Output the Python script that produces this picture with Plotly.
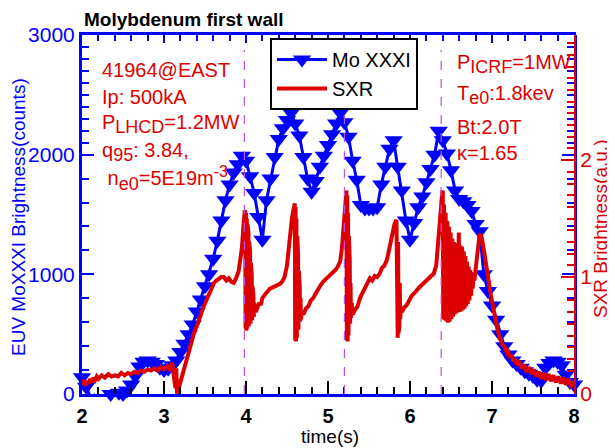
import plotly.graph_objects as go

# ---------------- data ----------------
mo_time = [2.00, 2.05, 2.10, 2.15, 2.20, 2.25, 2.30, 2.35, 2.40, 2.45,
           2.50, 2.55, 2.60, 2.65, 2.70, 2.75, 2.80, 2.85, 2.90, 2.95,
           3.00, 3.05, 3.10, 3.15, 3.20, 3.25, 3.30, 3.35, 3.40, 3.45,
           3.50, 3.55, 3.60, 3.65, 3.70, 3.75, 3.80, 3.85, 3.90, 3.95,
           4.00, 4.05, 4.10, 4.15, 4.20, 4.25, 4.30, 4.35, 4.40, 4.45,
           4.50, 4.55, 4.60, 4.65, 4.70, 4.75, 4.80, 4.85, 4.90, 4.95,
           5.00, 5.05, 5.10, 5.15, 5.20, 5.25, 5.30, 5.35, 5.40, 5.45,
           5.50, 5.55, 5.60, 5.65, 5.70, 5.75, 5.80, 5.85, 5.90, 5.95,
           6.00, 6.05, 6.10, 6.15, 6.20, 6.25, 6.30, 6.35, 6.40, 6.45,
           6.50, 6.55, 6.60, 6.65, 6.70, 6.75, 6.80, 6.85, 6.90, 6.95,
           7.00, 7.05, 7.10, 7.15, 7.20, 7.25, 7.30, 7.35, 7.40, 7.45,
           7.50, 7.55, 7.60, 7.65, 7.70, 7.75, 7.80, 7.85, 7.90, 7.95, 8.00]
mo_counts = [140, 60, -20, -10, -30, -20, -40, 0, -20, 10,
             0, 30, 80, 150, 230, 270, 280, 270, 250, 220,
             200, 210, 240, 280, 350, 420, 500, 580, 690, 790,
             900, 1000, 1130, 1280, 1450, 1620, 1750, 1850, 1920, 1990,
             1950, 1820, 1680, 1480, 1290, 1620, 1800, 1980, 2130, 2220,
             2290, 2350, 2260, 2160, 1980, 1800, 1690, 1780, 1900, 1990,
             2080, 2170, 2260, 2350, 2270, 2150, 1950, 1790, 1580, 1550,
             1550, 1550, 1560, 1750, 1900, 2050, 2120, 1900, 1700, 1450,
             1290, 1430, 1560, 1650, 1770, 1880, 2000, 2200, 2120, 2010,
             1870, 1700, 1630, 1610, 1580, 1530, 1420, 1360, 1000, 860,
             740, 620, 500, 400, 330, 280, 250, 220, 190, 170,
             150, 120, 110, 220, 260, 280, 270, 240, 160, 100, 80]

sxr_points = [
    (2.00, 0.08), (2.02, 0.12), (2.04, 0.07), (2.06, 0.11), (2.08, 0.09), (2.10, 0.13),
    (2.12, 0.10), (2.14, 0.14), (2.16, 0.12), (2.18, 0.15), (2.20, 0.13), (2.24, 0.16),
    (2.28, 0.14), (2.32, 0.17), (2.36, 0.15), (2.40, 0.16), (2.44, 0.15), (2.48, 0.18),
    (2.52, 0.16), (2.56, 0.18), (2.60, 0.17), (2.64, 0.19), (2.68, 0.18), (2.72, 0.20),
    (2.76, 0.19), (2.80, 0.21), (2.84, 0.20), (2.88, 0.22), (2.92, 0.20), (2.96, 0.23),
    (3.00, 0.21), (3.04, 0.24), (3.08, 0.20), (3.10, 0.27), (3.12, 0.15), (3.14, 0.05),
    (3.15, 0.22), (3.16, -0.02), (3.17, 0.12), (3.18, 0.05), (3.20, 0.10), (3.22, 0.15),
    (3.25, 0.22), (3.28, 0.32), (3.31, 0.40), (3.34, 0.47), (3.37, 0.53), (3.40, 0.58),
    (3.43, 0.65), (3.46, 0.70), (3.49, 0.76), (3.52, 0.81), (3.55, 0.86), (3.58, 0.91),
    (3.61, 0.95), (3.64, 0.97), (3.67, 0.99), (3.70, 1.00), (3.73, 1.00), (3.76, 0.97),
    (3.79, 0.99), (3.82, 0.96), (3.85, 0.95), (3.88, 0.99), (3.91, 1.05), (3.93, 1.15),
    (3.95, 1.25), (3.97, 1.45), (3.985, 1.57),
    (3.990, 1.56), (3.995, 0.56), (4.000, 1.55), (4.005, 0.54), (4.010, 1.50), (4.015, 0.56),
    (4.020, 1.45), (4.025, 0.57), (4.030, 1.38), (4.035, 0.58), (4.040, 1.30), (4.045, 0.60),
    (4.050, 1.22), (4.055, 0.60), (4.060, 1.12), (4.065, 0.62), (4.070, 1.02), (4.075, 0.63),
    (4.080, 0.92), (4.085, 0.65), (4.090, 0.85), (4.095, 0.66), (4.100, 0.78), (4.105, 0.68),
    (4.11, 0.74), (4.12, 0.70), (4.14, 0.74), (4.16, 0.78), (4.18, 0.76), (4.20, 0.82),
    (4.23, 0.85), (4.26, 0.88), (4.29, 0.90), (4.32, 0.91), (4.35, 0.92), (4.38, 0.93),
    (4.41, 0.94), (4.44, 0.96), (4.47, 1.00), (4.50, 1.10), (4.52, 1.25), (4.54, 1.40),
    (4.56, 1.50), (4.58, 1.58), (4.595, 1.63),
    (4.600, 0.46), (4.605, 1.60), (4.610, 0.45), (4.615, 1.50), (4.620, 0.48), (4.625, 1.35),
    (4.630, 0.52), (4.635, 1.20), (4.640, 0.55), (4.645, 1.05), (4.650, 0.58), (4.655, 0.92),
    (4.660, 0.62), (4.665, 0.82), (4.670, 0.64), (4.68, 0.70), (4.70, 0.68), (4.73, 0.73),
    (4.76, 0.75), (4.79, 0.80), (4.82, 0.82), (4.85, 0.86), (4.88, 0.90), (4.91, 0.93),
    (4.94, 0.96), (4.97, 0.98), (5.00, 1.00), (5.03, 1.02), (5.06, 1.03), (5.09, 1.06),
    (5.12, 1.09), (5.15, 1.14), (5.17, 1.25), (5.19, 1.40), (5.21, 1.58), (5.225, 1.74),
    (5.230, 0.46), (5.235, 1.70), (5.240, 0.45), (5.245, 1.55), (5.250, 0.50), (5.255, 1.35),
    (5.260, 0.55), (5.265, 1.15), (5.270, 0.60), (5.275, 0.95), (5.280, 0.65), (5.29, 0.78),
    (5.30, 0.68), (5.33, 0.72), (5.36, 0.75), (5.39, 0.82), (5.42, 0.86), (5.45, 0.91),
    (5.48, 0.95), (5.51, 0.99), (5.54, 0.97), (5.57, 1.01), (5.60, 1.00), (5.63, 1.03),
    (5.66, 1.08), (5.69, 1.10), (5.72, 1.15), (5.75, 1.25), (5.78, 1.35), (5.81, 1.45),
    (5.835, 1.49),
    (5.840, 0.49), (5.845, 1.45), (5.850, 0.48), (5.855, 1.30), (5.860, 0.52), (5.865, 1.12),
    (5.870, 0.58), (5.875, 0.95), (5.880, 0.64), (5.89, 0.75), (5.90, 0.70), (5.93, 0.74),
    (5.96, 0.76), (5.99, 0.80), (6.02, 0.84), (6.05, 0.86), (6.08, 0.89), (6.11, 0.91),
    (6.14, 0.93), (6.17, 0.95), (6.20, 0.97), (6.23, 0.98), (6.26, 1.00), (6.29, 1.03),
    (6.32, 1.10), (6.34, 1.25), (6.36, 1.45), (6.38, 1.62), (6.395, 1.74),
    (6.400, 1.72), (6.405, 0.64), (6.415, 1.62), (6.425, 0.63), (6.435, 1.55), (6.445, 0.62),
    (6.455, 1.48), (6.465, 0.61), (6.475, 1.43), (6.485, 0.62), (6.495, 1.38), (6.505, 0.64),
    (6.515, 1.33), (6.525, 0.66), (6.535, 1.30), (6.545, 0.68), (6.555, 1.29), (6.565, 0.69),
    (6.575, 1.28), (6.585, 0.70), (6.595, 1.38), (6.605, 0.70), (6.615, 1.27), (6.625, 0.71),
    (6.635, 1.26), (6.645, 0.72), (6.655, 1.22), (6.665, 0.73), (6.675, 1.18), (6.685, 0.75),
    (6.695, 1.13), (6.705, 0.77), (6.715, 1.09), (6.725, 0.80), (6.735, 1.06), (6.745, 0.84),
    (6.755, 1.04), (6.765, 0.90), (6.775, 1.03), (6.785, 0.97), (6.795, 1.05), (6.81, 1.12),
    (6.83, 1.25), (6.85, 1.37), (6.87, 1.35), (6.89, 1.28), (6.91, 1.18), (6.93, 1.08),
    (6.95, 0.98), (6.97, 0.90), (6.99, 0.83), (7.01, 0.76), (7.03, 0.68), (7.05, 0.60),
    (7.07, 0.54), (7.09, 0.49), (7.11, 0.45), (7.13, 0.42), (7.16, 0.40), (7.18, 0.35),
    (7.20, 0.36), (7.22, 0.31), (7.24, 0.33), (7.26, 0.28), (7.28, 0.30), (7.30, 0.25),
    (7.33, 0.28), (7.36, 0.22), (7.39, 0.25), (7.42, 0.19), (7.45, 0.23), (7.48, 0.17),
    (7.51, 0.21), (7.54, 0.15), (7.57, 0.19), (7.60, 0.13), (7.63, 0.18), (7.66, 0.12),
    (7.69, 0.17), (7.72, 0.11), (7.75, 0.16), (7.78, 0.10), (7.81, 0.15), (7.84, 0.09),
    (7.87, 0.14), (7.90, 0.08), (7.93, 0.13), (7.96, 0.07), (8.00, 0.10),
]
sxr_time = [p[0] for p in sxr_points]
sxr_value = [p[1] for p in sxr_points]

crash_times = [3.98, 5.20, 6.38]

x_ticks = [2, 3, 4, 5, 6, 7, 8]
left_ticks = [0, 1000, 2000, 3000]
left_minor = [200, 400, 600, 800, 1200, 1400, 1600, 1800,
              2100, 2200, 2300, 2400, 2500, 2600, 2700, 2800, 2900]
right_ticks = [0, 1, 2]


def sub(s):
    return '<sub><span style="font-size:18px">' + s + '</span></sub>'


def sup(s):
    return '<sup><span style="font-size:16px">' + s + '</span></sup>'


left_notes = ["41964@EAST", "Ip: 500kA", "P" + sub("LHCD") + "=1.2MW",
              "q" + sub("95") + ": 3.84,", " n" + sub("e0") + "=5E19m" + sup("-3")]
right_notes = ["P" + sub("ICRF") + "=1MW", "T" + sub("e0") + ":1.8kev", "Bt:2.0T", "κ=1.65"]

# ---------------- styles ----------------
BLUE = "#0000ff"
RED = "#dd0000"
FONT = "Arial, Liberation Sans, sans-serif"

# page body has an 8px margin; plot area in the page: x 82..574, y 35..394
OFF = 8
PL, PR, PT, PB = 82, 574, 35, 394
PW, PH = PR - PL, PB - PT


def px(xp):
    return (xp - PL) / PW


def py(yp):
    return (PB - yp) / PH


fig = go.Figure()
fig.add_trace(go.Scatter(
    x=mo_time, y=mo_counts, name="Mo XXXI", mode="lines+markers",
    line=dict(color=BLUE, width=3),
    marker=dict(symbol="triangle-down", size=16, color=BLUE),
    cliponaxis=False, xaxis="x", yaxis="y"))
fig.add_trace(go.Scatter(
    x=sxr_time, y=sxr_value, name="SXR", mode="lines",
    line=dict(color=RED, width=4),
    xaxis="x2", yaxis="y2"))

for t in crash_times:
    fig.add_shape(type="line", xref="x", yref="paper", x0=t, x1=t, y0=0, y1=py(50),
                  line=dict(color="#c050e0", width=1.2, dash="dash"))

annotations = []
ly = [70, 97, 124, 152, 178]
for txt, yy in zip(left_notes, ly):
    annotations.append(dict(text=txt, x=px(100), y=py(yy),
                            xref="paper", yref="paper", xanchor="left", yanchor="middle",
                            showarrow=False, font=dict(size=20, color=RED, family=FONT)))
ry = [64, 95, 127, 153]
for txt, yy in zip(right_notes, ry):
    annotations.append(dict(text=txt, x=px(455), y=py(yy),
                            xref="paper", yref="paper", xanchor="left", yanchor="middle",
                            showarrow=False, font=dict(size=20, color=RED, family=FONT)))
annotations.append(dict(text="<b>Molybdenum first wall</b>", x=px(82), y=py(19),
                        xref="paper", yref="paper", xanchor="left", yanchor="middle",
                        showarrow=False, font=dict(size=19, color="black", family=FONT)))
annotations.append(dict(text="EUV MoXXXI Brightness(counts)", x=px(18),
                        y=py(217), xref="paper", yref="paper", textangle=-90,
                        xanchor="center", yanchor="middle", showarrow=False,
                        font=dict(size=19, color=BLUE, family=FONT)))
annotations.append(dict(text="SXR Brightness(a.u.)", x=px(600),
                        y=py(229), xref="paper", yref="paper", textangle=-90,
                        xanchor="center", yanchor="middle", showarrow=False,
                        font=dict(size=19, color=RED, family=FONT)))
annotations.append(dict(text="time(s)", x=px(330), y=py(436),
                        xref="paper", yref="paper", xanchor="center", yanchor="middle",
                        showarrow=False, font=dict(size=19, color="black", family=FONT)))

fig.update_layout(
    width=615 - OFF, height=448 - OFF,
    margin=dict(l=PL - OFF, r=615 - PR, t=PT - OFF, b=448 - PB, autoexpand=False),
    paper_bgcolor="white", plot_bgcolor="white",
    font=dict(family=FONT),
    showlegend=True,
    legend=dict(x=px(270), y=py(38), xanchor="left", yanchor="top",
                bgcolor="white", bordercolor="black", borderwidth=2,
                font=dict(size=20, color="black", family=FONT),
                itemwidth=50, tracegroupgap=0),
    annotations=annotations,
    xaxis=dict(range=[2, 8], tickvals=x_ticks, showgrid=False, zeroline=False,
               showline=True, linecolor=BLUE, linewidth=3,
               ticks="inside", ticklen=13, tickwidth=2, tickcolor="black",
               minor=dict(dtick=0.2, ticks="inside", ticklen=7, tickwidth=2, tickcolor="black"),
               tickfont=dict(size=20, color="black", family=FONT, weight="bold"),
               ticklabelstandoff=2),
    xaxis2=dict(range=[2, 8], overlaying="x", side="top", showgrid=False, zeroline=False,
                showline=True, linecolor=BLUE, linewidth=3, showticklabels=False,
                ticks="inside", tickvals=x_ticks, ticklen=8, tickwidth=2, tickcolor=BLUE,
                minor=dict(dtick=0.2, ticks="inside", ticklen=6, tickwidth=2, tickcolor=BLUE)),
    yaxis=dict(range=[0, 3000], tickvals=left_ticks, showgrid=False, zeroline=False,
               showline=True, linecolor=BLUE, linewidth=3, mirror="ticks",
               ticks="inside", ticklen=12, tickwidth=2, tickcolor=BLUE,
               minor=dict(tickvals=left_minor, ticks="inside", ticklen=7, tickwidth=2,
                          tickcolor=BLUE),
               tickfont=dict(size=21, color=BLUE, family=FONT)),
    yaxis2=dict(range=[0, 3.07], overlaying="y", side="right", anchor="x",
                tickvals=right_ticks, showgrid=False, zeroline=False,
                showline=True, linecolor=RED, linewidth=2,
                ticks="inside", ticklen=13, tickwidth=2, tickcolor=RED,
                minor=dict(dtick=0.1, ticks="inside", ticklen=7, tickwidth=2, tickcolor=RED),
                tickfont=dict(size=21, color=RED, family=FONT)),
)

fig.write_html("out.html")
